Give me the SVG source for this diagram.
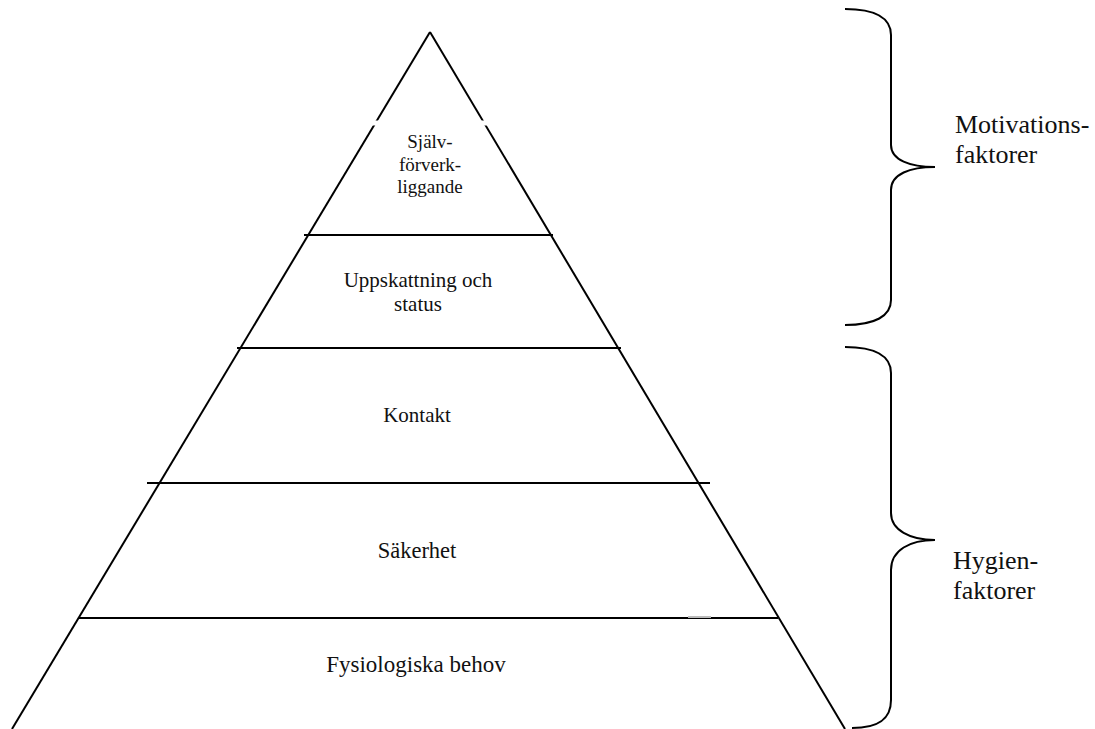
<svg xmlns="http://www.w3.org/2000/svg" width="1095" height="729" viewBox="0 0 1095 729">
  <style>
    .ln { stroke: #000; stroke-width: 2; fill: none; }
    .t { font-family: "Liberation Serif", "Times New Roman", serif; fill: #111; text-anchor: middle; }
    .r { font-family: "Liberation Serif", "Times New Roman", serif; fill: #111; font-size: 26px; }
  </style>
  <rect width="1095" height="729" fill="#fff"/>
  <g id="connectors">
    <line class="ln" x1="430" y1="32" x2="12" y2="729"/>
    <line class="ln" x1="430" y1="32" x2="845" y2="729"/>
    <rect x="360" y="120.5" width="140" height="5" fill="#fff"/>
    <line class="ln" x1="304" y1="235" x2="553" y2="235"/>
    <line class="ln" x1="237" y1="348" x2="621" y2="348"/>
    <line class="ln" x1="147" y1="483" x2="710" y2="483"/>
    <line class="ln" x1="79" y1="618" x2="778" y2="618"/>
    <line x1="688" y1="617" x2="711" y2="617" stroke="#bbb" stroke-width="2"/>
  </g>
  <g id="level-top">
    <text class="t" font-size="19" x="430" y="148">Själv-</text>
    <text class="t" font-size="19" x="430" y="171">förverk-</text>
    <text class="t" font-size="19" x="430" y="193">liggande</text>
  </g>
  <g id="level-2">
    <text class="t" font-size="21" x="418" y="287">Uppskattning och</text>
    <text class="t" font-size="21" x="418" y="311">status</text>
  </g>
  <g id="level-3">
    <text class="t" font-size="21" x="417" y="422">Kontakt</text>
  </g>
  <g id="level-4">
    <text class="t" font-size="22.5" x="417" y="558">Säkerhet</text>
  </g>
  <g id="level-5">
    <text class="t" font-size="23" x="416" y="672">Fysiologiska behov</text>
  </g>
  <g id="brace-motivation">
    <path class="ln" d="M845,9 C875,9 891,18 891,35 L891,145 C891,160 910,167 935,167 C910,167 891,174 891,190 L891,300 C891,316 875,325 845,325"/>
    <text class="r" x="955" y="133">Motivations-</text>
    <text class="r" x="955" y="163">faktorer</text>
  </g>
  <g id="brace-hygien">
    <path class="ln" d="M845,347 C875,347 891,356 891,373 L891,513 C891,530 910,540 935,540 C910,540 891,550 891,570 L891,700 C891,718 880,728 852,728"/>
    <text class="r" x="953" y="569">Hygien-</text>
    <text class="r" x="953" y="599">faktorer</text>
  </g>
</svg>
